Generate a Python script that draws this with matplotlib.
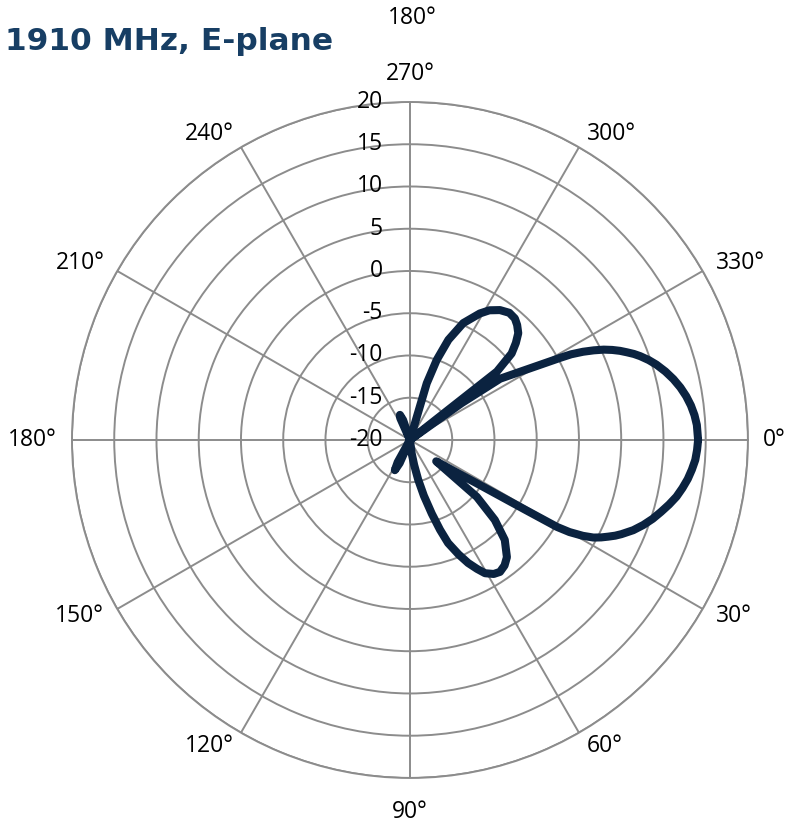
import numpy as np
import matplotlib
matplotlib.use("Agg")
import matplotlib.pyplot as plt
from matplotlib.transforms import offset_copy

plt.rcParams['font.family'] = ['Open Sans', 'DejaVu Sans']

# measured gain (dB) vs angle (deg, clockwise from 0 deg at right)
angle_deg = [0, 2, 4, 6, 8, 10, 12, 14, 16, 18, 20, 22, 24, 25, 26, 27, 28, 29, 30, 30.6,
             31.2, 32.9, 35.3, 39.1,
             40.4, 43.3, 46.5, 50.4, 53, 55.7, 58, 60.6, 62.5, 64.7, 67, 69.7, 71.5,
             73.5, 76, 78.3, 80.5, 82.7, 86,
             110, 114, 116.6, 119, 123,
             243, 246, 248.2, 251, 254,
             281, 286.5, 288.5, 291, 294.5, 298.9, 301.5, 304.7, 308, 310.8, 313, 315.4,
             317.5, 319.6, 321.8, 323,
             324.5, 325.8, 328.2, 330, 331.3, 332, 333, 334, 335, 336, 337, 338, 339, 340,
             341.5, 343, 345, 347, 349, 351, 353, 355, 357]
gain_db = [14.1, 14.0, 13.85, 13.55, 13.2, 12.75, 12.25, 11.6, 10.9, 10.2, 9.4, 8.5, 7.4, 6.8,
           6.1, 5.4, 4.6, 3.4, 1.8, 0.2,
           -4.1, -10.4, -13.7, -16.0,
           -9.6, -6.2, -3.7, -2.0, -1.4, -1.1, -1.3, -1.9, -2.8, -3.9, -5.3, -7.0, -8.8,
           -10.9, -13.2, -15.2, -17.0, -18.4, -20,
           -20, -17.0, -16.0, -17.0, -20,
           -20, -17.2, -16.8, -17.5, -20,
           -20, -13.0, -10.0, -7.3, -4.8, -2.9, -2.0, -1.3, -0.9, -1.0, -1.4, -2.0,
           -3.0, -4.2, -6.9, -20,
           -12.5, -7.1, -4.7, -2.2, 0.2, 1.6, 3.0, 4.2, 5.3, 6.2, 7.0, 7.7, 8.4, 9.0,
           9.8, 10.5, 11.3, 12.0, 12.6, 13.1, 13.5, 13.8, 14.0]

r_ticks = [-20, -15, -10, -5, 0, 5, 10, 15, 20]
theta_ticks = list(range(0, 360, 30))
theta_labels = [f"{a}\u00b0" for a in theta_ticks]

grid_col = '#8c8c8c'
line_col = '#0b2340'

fig = plt.figure(figsize=(7.85, 8.23), dpi=100)
ax = fig.add_axes([0.0917, 0.0547, 0.8611, 0.8214], projection='polar')
ax.set_theta_zero_location('E')
ax.set_theta_direction(-1)
ax.set_rlim(-20, 20)
ax.set_rticks(r_ticks[1:])
ax.set_yticklabels([])
ax.set_thetagrids(theta_ticks, labels=[''] * len(theta_ticks))
ax.grid(True, color=grid_col, linewidth=1.4)
ax.spines['polar'].set_color(grid_col)
ax.spines['polar'].set_linewidth(1.4)

th = np.deg2rad(np.append(angle_deg, 360))
rr = np.append(gain_db, gain_db[0])
ax.plot(th, rr, color=line_col, linewidth=5.8, solid_joinstyle='round',
        solid_capstyle='round', zorder=5)

# radial labels along the top spoke
for v in r_ticks:
    tr = offset_copy(ax.transData, fig=fig, x=-27, y=0, units='dots')
    ax.text(np.deg2rad(270), v, str(v), transform=tr, ha='right', va='center',
            fontsize=16.5, color='black', zorder=6)

# angle labels around the rim
for a, lab in zip(theta_ticks, theta_labels):
    c, s = np.cos(np.deg2rad(a)), -np.sin(np.deg2rad(a))
    gap = 15
    ha = 'left' if c > 0.1 else ('right' if c < -0.1 else 'center')
    va = 'center'
    if s > 0.9:
        va, gap = 'bottom', 16
    elif s < -0.9:
        va, gap = 'top', 22
    tr = offset_copy(ax.transData, fig=fig, x=gap * c, y=gap * s, units='dots')
    ax.text(np.deg2rad(a), 20, lab, transform=tr, ha=ha, va=va, fontsize=16.5)

fig.text(412 / 785, 1 - 18 / 823, "180\u00b0", ha='center', va='center', fontsize=16.5)
fig.text(5 / 785, 1 - 50 / 823, "1910 MHz, E-plane", ha='left', va='baseline',
         fontsize=22.5, fontweight='bold', color='#173e64', family='DejaVu Sans')

fig.savefig('out.png', dpi=100)
